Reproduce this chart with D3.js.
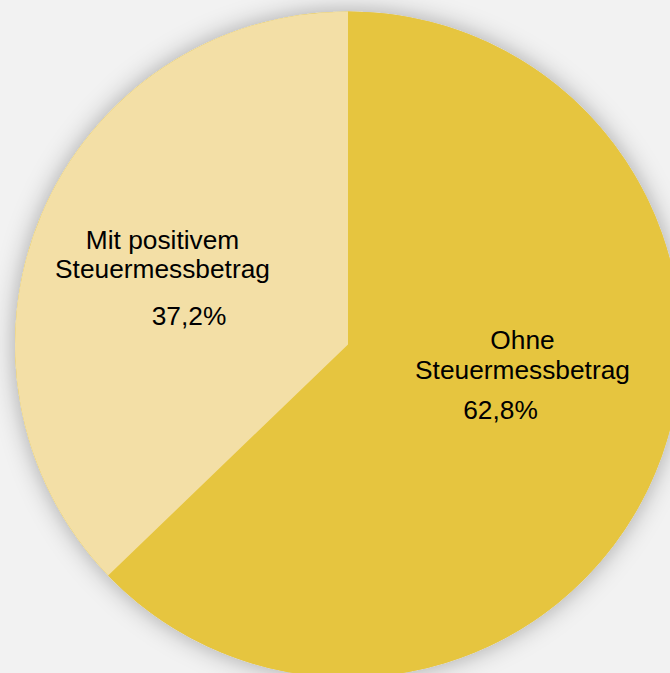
<!DOCTYPE html>
<html>
<head>
<meta charset="utf-8">
<script src="https://cdn.jsdelivr.net/npm/d3@7"></script>
<style>
  html, body { margin: 0; padding: 0; background: #f2f2f2; }
  svg { display: block; }
</style>
</head>
<body>
<svg id="chart" width="670" height="673"></svg>
<script>
const categories = ["Ohne Steuermessbetrag", "Mit positivem Steuermessbetrag"];
const values = [62.8, 37.2];
const valueLabels = ["62,8%", "37,2%"];
const labelLines = [["Ohne", "Steuermessbetrag"], ["Mit positivem", "Steuermessbetrag"]];
const colors = ["#e6c53f", "#f3dfa6"];

const svg = d3.select("#chart");
const cx = 348, cy = 344.5, r = 333;

const defs = svg.append("defs");
const f = defs.append("filter").attr("id", "shadow")
  .attr("x", "-20%").attr("y", "-20%").attr("width", "140%").attr("height", "140%");
f.append("feDropShadow").attr("dx", 0).attr("dy", 0)
  .attr("stdDeviation", 12).attr("flood-color", "#000").attr("flood-opacity", 0.32);

const pie = d3.pie().sort(null).value(d => d)(values);
const arc = d3.arc().innerRadius(0).outerRadius(r);

const g = svg.append("g").attr("transform", `translate(${cx},${cy})`);
g.append("circle").attr("r", r).attr("fill", colors[0]).attr("filter", "url(#shadow)");
g.selectAll("path.slice").data(pie).join("path")
  .attr("class", "slice")
  .attr("d", arc)
  .attr("fill", (d, i) => colors[i]);

const font = "'Liberation Sans', Arial, sans-serif";
const labelPos = [
  { x: 522.5, y: [349, 379], px: 500.5, py: 419 },
  { x: 162.5, y: [249, 278], px: 189, py: 325 }
];
const lg = svg.append("g").attr("font-family", font).attr("font-size", 26.3).attr("fill", "#000");
labelLines.forEach((lines, i) => {
  const p = labelPos[i];
  lines.forEach((t, j) => {
    lg.append("text").attr("x", p.x).attr("y", p.y[j]).attr("text-anchor", "middle").text(t);
  });
  lg.append("text").attr("x", p.px).attr("y", p.py).attr("text-anchor", "middle").text(valueLabels[i]);
});
</script>
</body>
</html>
